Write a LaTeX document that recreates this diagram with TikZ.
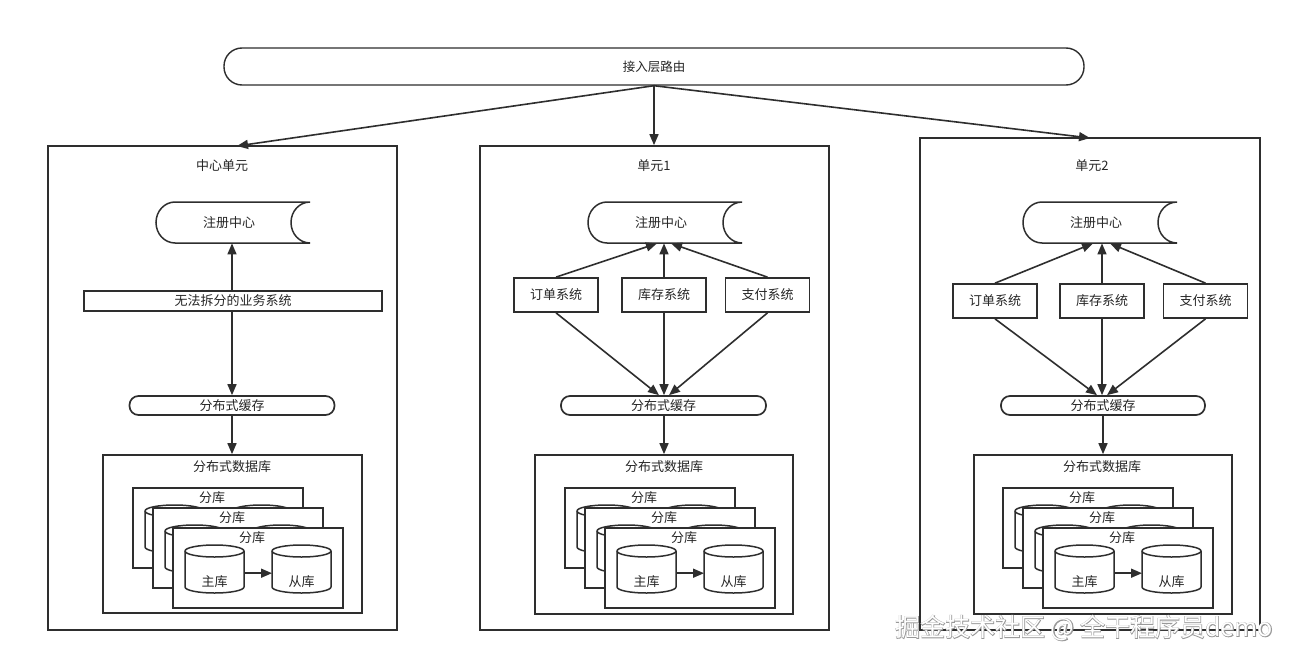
\documentclass[tikz,border=0pt]{standalone}
\usepackage{fontspec}
\setmainfont{Noto Sans CJK SC}
\newfontfamily\wmfont[FakeBold=4]{Noto Sans CJK SC}
\usetikzlibrary{calc,arrows.meta}
\definecolor{lc}{HTML}{2E2E2E}
\definecolor{tc}{HTML}{262626}
\tikzset{
  ln/.style={draw=lc, line width=1.5pt},
  arr/.style={draw=lc, line width=1.6pt, -{Triangle[length=11pt,width=9pt]}},
  box/.style={draw=lc, line width=1.7pt, fill=white, inner sep=0},
  txt/.style={font=\fontsize{13}{15}\selectfont, text=tc, inner sep=0},
  pill/.style={box, rounded corners=9pt, font=\fontsize{13}{15}\selectfont, text=tc},
  sysbox/.style={box, minimum width=84, minimum height=34, font=\fontsize{13}{15}\selectfont, text=tc}
}
% registry shape: name, left x, top y
\newcommand\regnode[3]{%
  \draw[ln, fill=white] ({#2+154},#3) -- ({#2+19},#3)
     arc[start angle=-90, end angle=-270, x radius=19, y radius=20.5]
     -- ({#2+154},{#3+41})
     arc[start angle=90, end angle=270, x radius=19, y radius=20.5];
  \node[txt, minimum width=146, minimum height=41, anchor=north west] (#1) at (#2,#3) {注册中心};
}
% cylinder body: name, left x, top y
\newcommand\cylbody[3]{%
  \draw[ln, fill=white] (#2,{#3+6}) -- (#2,{#3+42})
     arc[start angle=180, end angle=0, x radius=29.5, y radius=6]
     -- ({#2+59},{#3+6})
     arc[start angle=0, end angle=-180, x radius=29.5, y radius=6] -- cycle;
  \draw[ln] (#2,{#3+6}) arc[start angle=180, end angle=0, x radius=29.5, y radius=6];
  \node[inner sep=0, minimum width=59, minimum height=48, anchor=north west] (#1) at (#2,#3) {};
}
% labelled cylinder: name, left x, top y, label
\newcommand\cylnd[4]{%
  \cylbody{#1}{#2}{#3}
  \node[txt] (#1l) at ({#2+29.5},{#3+37}) {#4};
}
% back shard box (its texts are hidden): name, left x, top y
\newcommand\shardback[3]{%
  \node[box, minimum width=170, minimum height=80, anchor=north west] (#1) at (#2,#3) {};
  \node[txt] (#1t) at ({#2+80},{#3+11}) {分库};
  \cylbody{#1m}{#2+13}{#3+18}
  \cylbody{#1s}{#2+100}{#3+18}
}
% front shard box: name, left x, top y
\newcommand\shard[3]{%
  \node[box, minimum width=170, minimum height=80, anchor=north west] (#1) at (#2,#3) {};
  \node[txt] (#1t) at ({#2+80},{#3+11}) {分库};
  \cylnd{#1m}{#2+13}{#3+18}{主库}
  \cylnd{#1s}{#2+100}{#3+18}{从库}
  \draw[arr] ($(#1m.east)+(0,4)$) -- ($(#1s.west)+(0,4)$);
}
\begin{document}
\begin{tikzpicture}[x=1pt,y=-1pt]
\useasboundingbox (0,0) rectangle (1293,661);
\fill[white] (0,0) rectangle (1293,661);

% top bar
\node[box, rounded corners=18pt, line width=1.4pt, minimum width=860, minimum height=37,
      font=\fontsize{12.5}{15}\selectfont, text=tc] (bar) at (654,66.5) {接入层路由};

% outer unit boxes
\node[box, minimum width=349, minimum height=484] (c0) at (222.5,388) {};
\node[box, minimum width=349, minimum height=484] (c1) at (654.5,388) {};
\node[box, minimum width=340, minimum height=492] (c2) at (1090,384) {};
\node[txt] (ttl0) at (222,166) {中心单元};
\node[txt] (ttl1) at (654,166) {单元1};
\node[txt] (ttl2) at (1092,166) {单元2};

\coordinate (t0) at (237,146);
\coordinate (t2) at (1090,138);
\draw[arr] (bar.south) -- (t0);
\draw[arr] (bar.south) -- (bar.south |- c1.north);
\draw[arr] (bar.south) -- (t2);

% ===== centre unit =====
\regnode{reg0}{156}{202}
\node[box, minimum width=298, minimum height=20, font=\fontsize{13}{15}\selectfont, text=tc] (biz0) at (233,301) {无法拆分的业务系统};
\node[pill, minimum width=205, minimum height=19] (cache0) at (232,405.5) {分布式缓存};
\node[box, minimum width=259, minimum height=158] (db0) at (232.5,534) {};
\node[txt] (db0t) at (232,467) {分布式数据库};
\shardback{s0a}{132}{487}
\shardback{s0b}{152}{507}
\shard{s0c}{172}{527}
\draw[arr] (biz0.north -| cache0.north) -- (cache0.north |- reg0.south);
\draw[arr] (biz0.south -| cache0.north) -- (cache0.north);
\draw[arr] (cache0.south) -- (cache0.south |- db0.north);

% ===== unit 1 =====
\regnode{reg1}{588}{202}
\node[sysbox] (ord1) at (556,295) {订单系统};
\node[sysbox] (inv1) at (664,295) {库存系统};
\node[sysbox] (pay1) at (767.5,295) {支付系统};
\node[pill, minimum width=205, minimum height=19] (cache1) at (663.5,405.5) {分布式缓存};
\node[box, minimum width=258, minimum height=159] (db1) at (664,534.5) {};
\node[txt] (db1t) at (664,467) {分布式数据库};
\shardback{s1a}{564}{487}
\shardback{s1b}{584}{507}
\shard{s1c}{604}{527}
\draw[arr] (ord1.north) -- ($(inv1.north |- reg1.south)+(-7,0)$);
\draw[arr] (inv1.north) -- (inv1.north |- reg1.south);
\draw[arr] (pay1.north) -- ($(inv1.north |- reg1.south)+(7,0)$);
\draw[arr] (ord1.south) -- ($(inv1.south |- cache1.north)+(-5,0)$);
\draw[arr] (inv1.south) -- (inv1.south |- cache1.north);
\draw[arr] (pay1.south) -- ($(inv1.south |- cache1.north)+(5,0)$);
\draw[arr] (cache1.south -| db1.north) -- (db1.north);

% ===== unit 2 =====
\regnode{reg2}{1023}{202}
\node[sysbox] (ord2) at (995,301) {订单系统};
\node[sysbox] (inv2) at (1102,301) {库存系统};
\node[sysbox] (pay2) at (1205.5,301) {支付系统};
\node[pill, minimum width=204, minimum height=19] (cache2) at (1103,405.5) {分布式缓存};
\node[box, minimum width=258, minimum height=159] (db2) at (1103,534.5) {};
\node[txt] (db2t) at (1102,467) {分布式数据库};
\shardback{s2a}{1002}{487}
\shardback{s2b}{1022}{507}
\shard{s2c}{1042}{527}
\draw[arr] (ord2.north) -- ($(inv2.north |- reg2.south)+(-9,0)$);
\draw[arr] (inv2.north) -- (inv2.north |- reg2.south);
\draw[arr] (pay2.north) -- ($(inv2.north |- reg2.south)+(8,0)$);
\draw[arr] (ord2.south) -- ($(inv2.south |- cache2.north)+(-5,0)$);
\draw[arr] (inv2.south) -- (inv2.south |- cache2.north);
\draw[arr] (pay2.south) -- ($(inv2.south |- cache2.north)+(5,0)$);
\draw[arr] (cache2.south) -- (cache2.south |- db2.north);

% watermark
\node[inner sep=0, anchor=east, text=gray!80, font=\wmfont\fontsize{25}{28}\selectfont] (wmA) at (1273,628) {掘金技术社区 @ 全干程序员demo};
\node[inner sep=0, anchor=east, text=white, font=\fontsize{25}{28}\selectfont] (wmB) at (1273,628) {掘金技术社区 @ 全干程序员demo};
\end{tikzpicture}
\end{document}
